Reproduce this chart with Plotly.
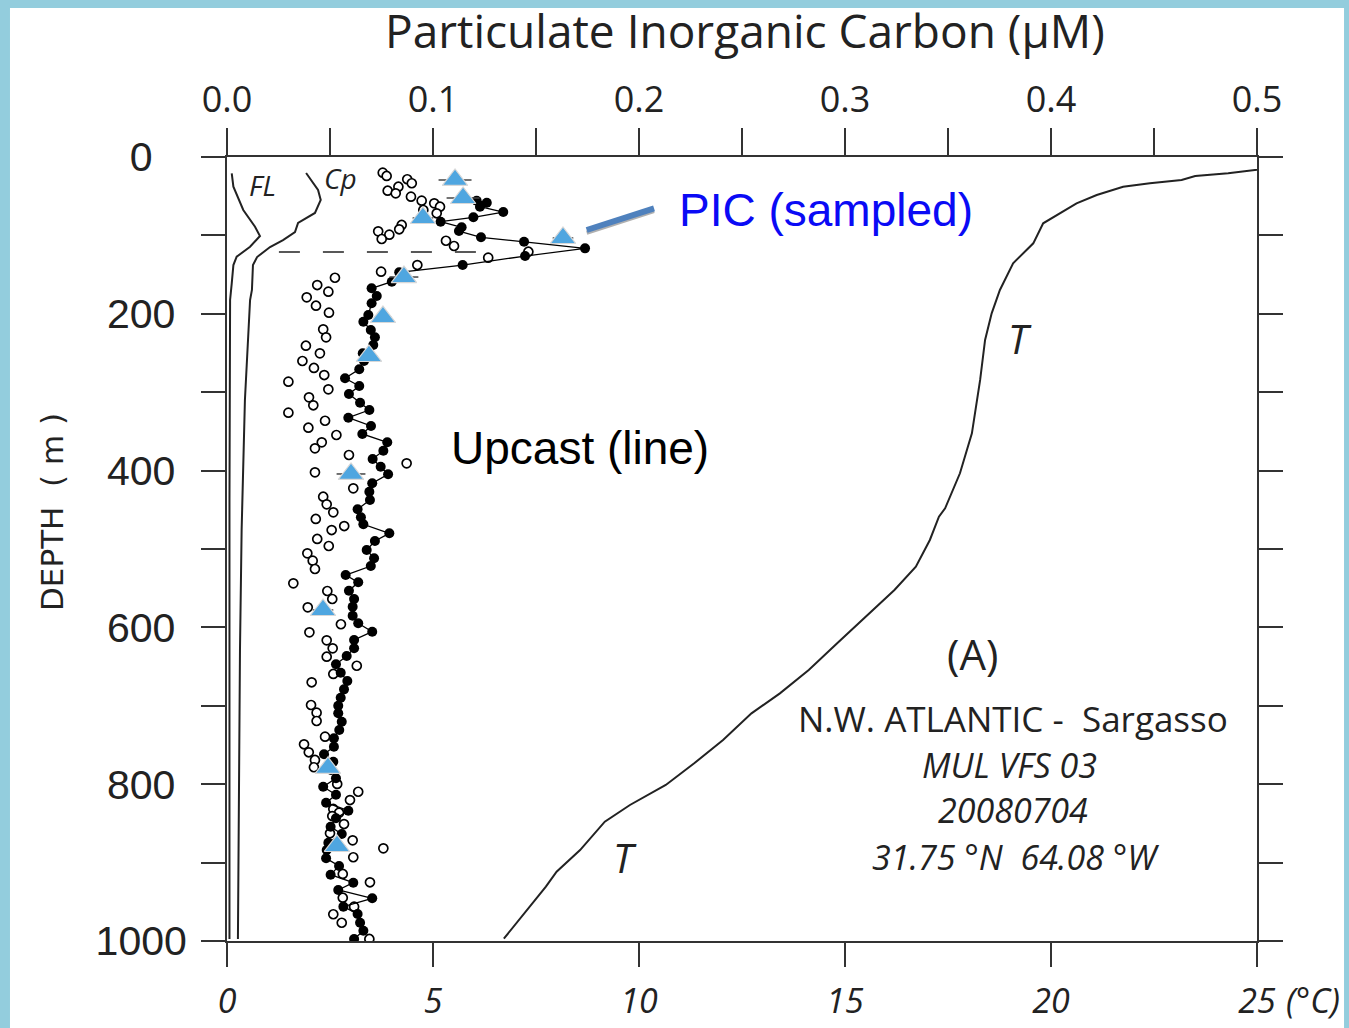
import plotly.graph_objects as go

# ---------------- data ----------------
# Upcast PIC (filled dots joined by a line): depth (m), PIC (uM)
up_depth = [55.7, 58.3, 63.4, 70.2, 76.9, 82.5, 89.7, 94.4, 102.4, 108.0, 116.5, 126.3, 137.8, 147.1,
            159.1, 167.5, 177.3, 186.6, 201.5, 210.1, 220.7, 230.0, 239.8, 250.4, 260.2, 270.8, 282.3,
            292.1, 302.3, 313.4, 322.7, 332.5, 343.1, 353.3, 363.9, 374.6, 385.2, 395.0, 404.7, 416.2,
            426.9, 437.5, 449.4, 459.6, 468.5, 480.0, 489.8, 501.3, 511.9, 521.7, 533.2, 542.5, 553.2,
            563.8, 573.6, 585.1, 594.8, 605.5, 616.1, 626.7, 636.5, 647.1, 657.8, 668.4, 679.0, 689.7,
            699.9, 709.6, 720.3, 730.9, 741.5, 752.2, 761.9, 771.3, 781.9, 792.5, 803.2, 813.4, 823.6,
            833.8, 843.5, 854.2, 863.5, 874.6, 883.9, 894.5, 904.3, 915.4, 925.6, 934.9, 945.5, 956.2,
            965.6, 976.7, 986.9, 997.4]
up_pic = [0.1212, 0.1261, 0.1228, 0.1341, 0.1196, 0.1037, 0.1139, 0.1126, 0.1233, 0.1442, 0.1738, 0.1447,
          0.1144, 0.0836, 0.0800, 0.0702, 0.0727, 0.0702, 0.0686, 0.0662, 0.0698, 0.0718, 0.0710, 0.0659,
          0.0665, 0.0642, 0.0573, 0.0642, 0.0592, 0.0646, 0.0691, 0.0589, 0.0699, 0.0657, 0.0778, 0.0759,
          0.0707, 0.0746, 0.0782, 0.0705, 0.0691, 0.0694, 0.0634, 0.0650, 0.0662, 0.0788, 0.0718, 0.0678,
          0.0714, 0.0698, 0.0576, 0.0637, 0.0592, 0.0617, 0.0610, 0.0610, 0.0637, 0.0705, 0.0617, 0.0617,
          0.0581, 0.0529, 0.0552, 0.0584, 0.0568, 0.0552, 0.0540, 0.0540, 0.0557, 0.0545, 0.0519, 0.0519,
          0.0471, 0.0516, 0.0505, 0.0529, 0.0467, 0.0529, 0.0481, 0.0589, 0.0529, 0.0503, 0.0557, 0.0492,
          0.0484, 0.0481, 0.0544, 0.0503, 0.0613, 0.0540, 0.0705, 0.0565, 0.0634, 0.0646, 0.0662, 0.0617]

# Downcast PIC (open circles)
down_depth = [20.0, 24.2, 28.4, 33.5, 37.9, 43.0, 46.3, 50.6, 55.7, 59.1, 63.4, 67.6, 71.8, 86.7, 92.2,
              94.8, 99.1, 104.6, 106.8, 113.5, 120.8, 128.4, 137.8, 146.3, 154.0, 163.3, 171.8, 179.0,
              189.7, 198.6, 219.8, 230.0, 240.7, 250.4, 260.2, 269.1, 278.1, 286.6, 296.3, 306.5, 316.7,
              326.1, 336.4, 345.3, 354.6, 363.9, 371.6, 380.1, 390.7, 402.2, 422.6, 433.3, 443.0, 453.2,
              461.7, 470.7, 475.8, 487.2, 496.2, 505.5, 514.9, 525.5, 543.8, 553.6, 563.8, 574.4, 596.0,
              606.3, 616.5, 626.7, 637.4, 648.9, 659.4, 670.0, 699.0, 708.8, 719.4, 739.4, 749.1, 759.3,
              769.1, 778.4, 799.7, 809.6, 820.2, 831.6, 836.4, 840.6, 850.8, 862.6, 871.6, 881.8, 893.2,
              914.5, 925.1, 944.8, 956.2, 965.9, 976.7, 997.4]
down_pic = [0.0756, 0.0775, 0.0875, 0.0897, 0.0832, 0.0780, 0.0819, 0.0893, 0.0945, 0.1006, 0.1034, 0.0953,
            0.1018, 0.0848, 0.0836, 0.0734, 0.0788, 0.0751, 0.1063, 0.1102, 0.1463, 0.1268, 0.0924, 0.0748,
            0.0524, 0.0438, 0.0492, 0.0387, 0.0432, 0.0495, 0.0467, 0.0481, 0.0383, 0.0451, 0.0366, 0.0422,
            0.0472, 0.0298, 0.0492, 0.0398, 0.0419, 0.0298, 0.0476, 0.0395, 0.0531, 0.0460, 0.0427, 0.0592,
            0.0872, 0.0427, 0.0613, 0.0467, 0.0484, 0.0516, 0.0431, 0.0569, 0.0508, 0.0438, 0.0494, 0.0390,
            0.0416, 0.0427, 0.0322, 0.0487, 0.0511, 0.0392, 0.0553, 0.0400, 0.0484, 0.0513, 0.0484, 0.0630,
            0.0516, 0.0411, 0.0408, 0.0435, 0.0435, 0.0476, 0.0374, 0.0397, 0.0427, 0.0422, 0.0535, 0.0637,
            0.0597, 0.0516, 0.0544, 0.0511, 0.0568, 0.0500, 0.0610, 0.0759, 0.0613, 0.0562, 0.0694, 0.0562,
            0.0617, 0.0516, 0.0557, 0.0691]

# Sampled PIC (blue triangles)
samp_depth = [29.3, 52.3, 77.8, 103.3, 153.1, 204.1, 253.8, 404.3, 577.8, 779.3, 878.8]
samp_pic = [0.1107, 0.1146, 0.0951, 0.1631, 0.0859, 0.0757, 0.0689, 0.0602, 0.0466, 0.0490, 0.0534]
samp_err = [0.008, 0.008, 0.005, 0.005, 0.007, 0.004, 0.004, 0.007, 0.005, 0.004, 0.004]

# Temperature profile (deg C)
temp_depth = [997.0, 960.5, 930.7, 911.6, 884.0, 847.8, 826.5, 801.0, 773.3, 743.6, 709.6, 684.1, 654.3,
              620.3, 586.4, 552.3, 522.6, 488.5, 458.8, 448.1, 403.4, 352.4, 284.4, 233.4, 199.4, 169.6,
              135.6, 110.1, 84.6, 71.8, 59.1, 48.5, 37.9, 33.5, 29.3, 24.2, 20.8, 0.0]
temp = [6.72, 7.27, 7.74, 8.00, 8.57, 9.17, 9.78, 10.65, 11.34, 12.04, 12.73, 13.42, 14.12, 14.81, 15.50,
        16.20, 16.72, 17.06, 17.28, 17.43, 17.79, 18.08, 18.28, 18.40, 18.56, 18.76, 19.08, 19.57, 19.81,
        20.22, 20.62, 21.11, 21.75, 22.40, 23.17, 23.50, 24.30, 27.6]

# Fluorescence (FL) and beam attenuation (Cp) traces, relative units on the PIC scale
fl_depth = [20.8, 37.9, 67.6, 88.9, 100.8, 114.4, 127.2, 137.8, 161.1, 182.4, 437.5, 692.6, 997.4]
fl = [0.0023, 0.0031, 0.0079, 0.0136, 0.0160, 0.0112, 0.0047, 0.0031, 0.0023, 0.0015, 0.0012, 0.0012, 0.0012]
cp_depth = [20.4, 42.1, 54.8, 71.4, 84.2, 95.7, 105.9, 114.8, 127.6, 137.8, 169.6, 182.4, 310.0, 475.8,
            628.8, 781.9, 997.4]
cp = [0.0384, 0.0442, 0.0455, 0.0427, 0.0345, 0.0330, 0.0272, 0.0209, 0.0146, 0.0126, 0.0121, 0.0112,
      0.0087, 0.0071, 0.0063, 0.0058, 0.0053]

# Mixed-layer dashed line
mld_depth = [121.2, 121.2]
mld_pic = [0.0252, 0.1214]

# Pointer from the "PIC (sampled)" label
ptr_depth = [93.1, 65.4]
ptr_pic = [0.1746, 0.2073]

pic_ticks = [0.0, 0.05, 0.1, 0.15, 0.2, 0.25, 0.3, 0.35, 0.4, 0.45, 0.5]
pic_ticktext = ["0.0", "", "0.1", "", "0.2", "", "0.3", "", "0.4", "", "0.5"]
t_ticks = [0, 5, 10, 15, 20, 25]
t_ticktext = ["0", "5", "10", "15", "20", "25"]
depth_ticks = [0, 100, 200, 300, 400, 500, 600, 700, 800, 900, 1000]
NB = "\u00a0"
depth_ticktext = ["0" + NB * 3, "", "200" + NB, "", "400" + NB, "", "600" + NB, "", "800" + NB, "", "1000"]

# ---------------- figure ----------------
INK = "#222222"
AX = "#333333"
MYR = "Open Sans"
ARI = "Liberation Sans"

fig = go.Figure()

fig.add_trace(go.Scatter(x=fl, y=fl_depth, mode="lines", xaxis="x", yaxis="y2",
                         line=dict(color=INK, width=2), showlegend=False, hoverinfo="skip"))
fig.add_trace(go.Scatter(x=cp, y=cp_depth, mode="lines", line=dict(color=INK, width=2),
                         showlegend=False, hoverinfo="skip"))
fig.add_trace(go.Scatter(x=mld_pic, y=mld_depth, mode="lines",
                         line=dict(color=INK, width=1.6, dash="21px,23px"), showlegend=False))
fig.add_trace(go.Scatter(x=temp, y=temp_depth, mode="lines", xaxis="x2", yaxis="y",
                         line=dict(color=INK, width=2), showlegend=False))
fig.add_trace(go.Scatter(x=down_pic, y=down_depth, mode="markers",
                         marker=dict(symbol="circle", size=9, color="white",
                                     line=dict(color="black", width=1.7)), showlegend=False))
fig.add_trace(go.Scatter(x=up_pic, y=up_depth, mode="lines+markers",
                         line=dict(color="black", width=1.3),
                         marker=dict(symbol="circle", size=10, color="black"), showlegend=False))
fig.add_trace(go.Scatter(x=samp_pic, y=samp_depth, mode="markers",
                         error_x=dict(type="data", array=samp_err, color="#444444", thickness=1.5, width=0),
                         marker=dict(symbol="triangle-up", size=22, color="#4FA6E0",
                                     line=dict(color="#D8D8D8", width=1.2)), showlegend=False))
# pointer shadow + pointer
fig.add_trace(go.Scatter(x=ptr_pic, y=[d + 3.5 for d in ptr_depth], mode="lines",
                         line=dict(color="#B0B0B0", width=4), showlegend=False, hoverinfo="skip"))
fig.add_trace(go.Scatter(x=ptr_pic, y=ptr_depth, mode="lines",
                         line=dict(color="#4F81BD", width=6), showlegend=False, hoverinfo="skip"))

fig.update_layout(
    width=1349, height=1028, autosize=False,
    margin=dict(l=227, r=92, t=157, b=87, pad=0, autoexpand=False),
    paper_bgcolor="#93CDDD", plot_bgcolor="white",
    showlegend=False,
    xaxis=dict(side="top", range=[0, 0.5], tickmode="array", tickvals=pic_ticks, ticktext=pic_ticktext,
               ticks="outside", ticklen=27, tickwidth=1.5, tickcolor=AX, showline=True, linecolor=AX,
               linewidth=2, showgrid=False, zeroline=False, ticklabelstandoff=2, automargin=False,
               tickfont=dict(family=MYR, size=36, color=INK)),
    xaxis2=dict(overlaying="x", side="bottom", anchor="y", range=[0, 25], tickmode="array",
                tickvals=t_ticks, ticktext=t_ticktext, ticks="outside", ticklen=24, tickwidth=1.5,
                tickcolor=AX, showline=True, linecolor=AX, linewidth=2, showgrid=False, zeroline=False,
                ticklabelstandoff=5, automargin=False,
                tickfont=dict(family=MYR, size=34, color=INK, style="italic")),
    yaxis=dict(range=[1000, 0], tickmode="array", tickvals=depth_ticks, ticktext=depth_ticktext,
               ticks="outside", ticklen=24, tickwidth=1.5, tickcolor=AX, showline=True, linecolor=AX,
               linewidth=2, showgrid=False, zeroline=False, ticklabelstandoff=6, automargin=False,
               tickfont=dict(family=ARI, size=41, color=INK)),
    yaxis2=dict(overlaying="y", side="right", anchor="x", range=[1000, 0], tickmode="array",
                tickvals=depth_ticks, ticks="outside", ticklen=24, tickwidth=1.5, tickcolor=AX,
                showticklabels=False, showline=True, linecolor=AX, linewidth=2, showgrid=False,
                zeroline=False, automargin=False),
)

# white page inside the blue frame
fig.add_shape(type="rect", xref="paper", yref="paper", x0=-0.2107, x1=1.0845, y0=-0.2, y1=1.190,
              fillcolor="white", line=dict(width=0), layer="below")

ann = []
ann.append(dict(text="Particulate Inorganic Carbon (µM)", xref="paper", yref="paper", x=0.503,
                y=(941 - 30) / 784.0, showarrow=False,
                font=dict(family=MYR, size=46, color=INK), xanchor="center", yanchor="middle"))
ann.append(dict(text="DEPTH" + NB * 2 + "(" + NB + "m" + NB + ")", xref="paper", yref="paper",
                x=(52 - 227) / 1030.0, y=(941 - 512) / 784.0, textangle=-90, showarrow=False,
                font=dict(family="DejaVu Sans", size=31, color=INK), xanchor="center", yanchor="middle"))
ann.append(dict(text="(°C)", xref="paper", yref="paper", x=(1313 - 227) / 1030.0, y=-(1000 - 941) / 784.0,
                showarrow=False, font=dict(family=MYR, size=34, color=INK, style="italic"),
                xanchor="center", yanchor="middle"))
ann.append(dict(text="FL", xref="x", yref="y", x=0.017, y=35.7, showarrow=False,
                font=dict(family=MYR, size=28, color=INK, style="italic")))
ann.append(dict(text="Cp", xref="x", yref="y", x=0.0553, y=26.8, showarrow=False,
                font=dict(family=MYR, size=28, color=INK, style="italic")))
ann.append(dict(text="PIC (sampled)", xref="x", yref="y", x=0.2908, y=67.6, showarrow=False,
                font=dict(family=ARI, size=46, color="#0A0AF5")))
ann.append(dict(text="Upcast (line)", xref="x", yref="y", x=0.1714, y=371.2, showarrow=False,
                font=dict(family=ARI, size=46, color="black")))
ann.append(dict(text="T", xref="x2", yref="y", x=19.25, y=230.9, showarrow=False,
                font=dict(family=MYR, size=40, color=INK, style="italic")))
ann.append(dict(text="T", xref="x2", yref="y", x=9.66, y=894.1, showarrow=False,
                font=dict(family=MYR, size=40, color=INK, style="italic")))
ann.append(dict(text="(A)", xref="x2", yref="y", x=18.1, y=632.7, showarrow=False,
                font=dict(family=MYR, size=42, color=INK)))
ann.append(dict(text="N.W. ATLANTIC -" + NB + " Sargasso", xref="x2", yref="y", x=19.08, y=715.6,
                showarrow=False, font=dict(family=MYR, size=35, color=INK)))
ann.append(dict(text="MUL VFS 03", xref="x2", yref="y", x=19.0, y=775.5, showarrow=False,
                font=dict(family=MYR, size=34, color=INK, style="italic")))
ann.append(dict(text="20080704", xref="x2", yref="y", x=19.08, y=832.9, showarrow=False,
                font=dict(family=MYR, size=34, color=INK, style="italic")))
ann.append(dict(text="31.75 °N" + NB + " 64.08 °W", xref="x2", yref="y", x=19.13, y=892.9, showarrow=False,
                font=dict(family=MYR, size=34, color=INK, style="italic")))
fig.update_layout(annotations=ann)

fig.write_html("out.html")
